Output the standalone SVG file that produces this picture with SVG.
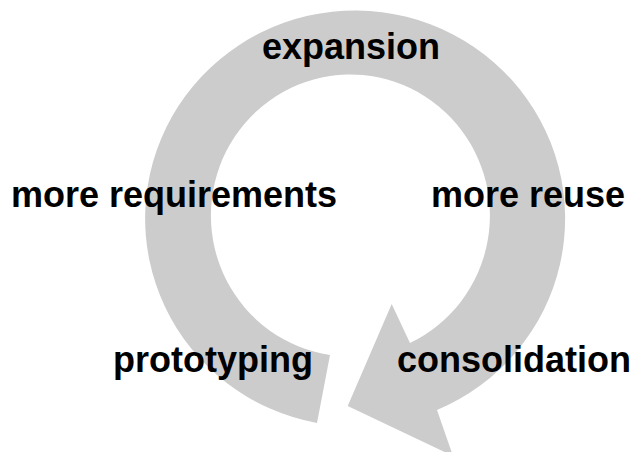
<svg xmlns="http://www.w3.org/2000/svg" width="634" height="452" viewBox="0 0 634 452">
  <style>
    .lbl { font-family: "Liberation Sans", Arial, Helvetica, sans-serif; font-weight: bold; font-size: 36px; fill: #000000; }
    .ring { fill: #cccccc; stroke: none; }
  </style>
  <rect x="0" y="0" width="634" height="452" fill="#ffffff"/>
  <g id="connectors">
    <path class="ring" d="M 330,355 L 317,423 A 210 208 0 1 1 437,410 L 453,456 L 347.7,406 L 391.7,304 L 410,343 A 139.5 141 0 1 0 330,355 Z"/>
  </g>
  <g id="expansion"><text class="lbl" x="262" y="59">expansion</text></g>
  <g id="more-requirements"><text class="lbl" x="11" y="206.5">more requirements</text></g>
  <g id="more-reuse"><text class="lbl" x="431" y="206.5">more reuse</text></g>
  <g id="prototyping"><text class="lbl" x="113" y="371.5">prototyping</text></g>
  <g id="consolidation"><text class="lbl" x="397" y="371.5">consolidation</text></g>
</svg>
